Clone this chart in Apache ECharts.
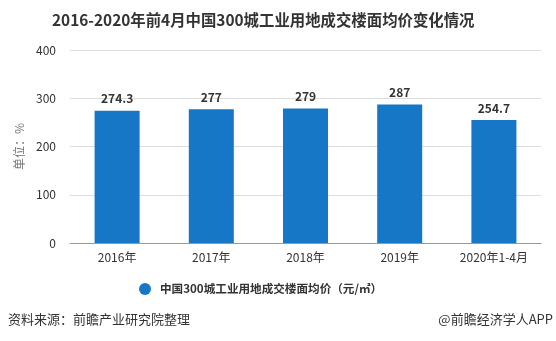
<!DOCTYPE html>
<html><head><meta charset="utf-8">
<script src="https://cdn.jsdelivr.net/npm/echarts@6/dist/echarts.min.js"></script>
<style>html,body{margin:0;padding:0;background:#fff}#c{width:556px;height:341px}</style>
</head><body><div id="c"></div>
<script>
const categories = ['2016年','2017年','2018年','2019年','2020年1-4月'];
const values = [274.3, 277, 279, 287, 254.7];
const yTicks = [0, 100, 200, 300, 400];
const seriesName = '中国300城工业用地成交楼面均价（元/㎡）';
const titleText = '2016-2020年前4月中国300城工业用地成交楼面均价变化情况';
const font = '"Microsoft YaHei","Noto Sans CJK SC",sans-serif';

const chart = echarts.init(document.getElementById('c'));
chart.setOption({
  animation: false,
  textStyle: {fontFamily: font},
  title: {text: titleText, left: 47, top: 7,
    textStyle: {fontSize: 15.4, fontWeight: 'bold', color: '#333', fontFamily: font}},
  grid: {left: 70, right: 15, top: 50, bottom: 98},
  legend: {bottom: 41, left: 134, icon: 'circle', itemWidth: 12, itemHeight: 12,
    textStyle: {fontSize: 11.6, fontWeight: 'bold', color: '#333', padding: [0,0,0,4]}, data: [seriesName]},
  xAxis: {type: 'category', data: categories,
    axisTick: {alignWithLabel: true, lineStyle: {color: '#999'}},
    axisLine: {lineStyle: {color: '#999'}},
    axisLabel: {color: '#333', fontSize: 12, margin: 8}},
  yAxis: {type: 'value', min: yTicks[0], max: yTicks[yTicks.length-1], interval: 100,
    name: '单位：%', nameLocation: 'middle', nameGap: 40, nameRotate: 90,
    nameTextStyle: {color: '#777', fontSize: 12},
    axisLine: {show: false}, axisTick: {show: false},
    axisLabel: {color: '#333', fontSize: 12, margin: 14},
    splitLine: {lineStyle: {color: '#ddd'}}},
  series: [{name: seriesName, type: 'bar', data: values, barWidth: 45,
    itemStyle: {color: '#1677c6'},
    label: {show: true, position: 'top', fontWeight: 'bold', fontSize: 12, color: '#333', distance: 6}}],
  graphic: [
    {type: 'text', left: 8, top: 313, style: {text: '资料来源：前瞻产业研究院整理', fontSize: 13, fill: '#333', fontFamily: font}},
    {type: 'text', right: 3, top: 313, style: {text: '@前瞻经济学人APP', fontSize: 13, fill: '#333', fontFamily: font}}
  ]
});
</script></body></html>
